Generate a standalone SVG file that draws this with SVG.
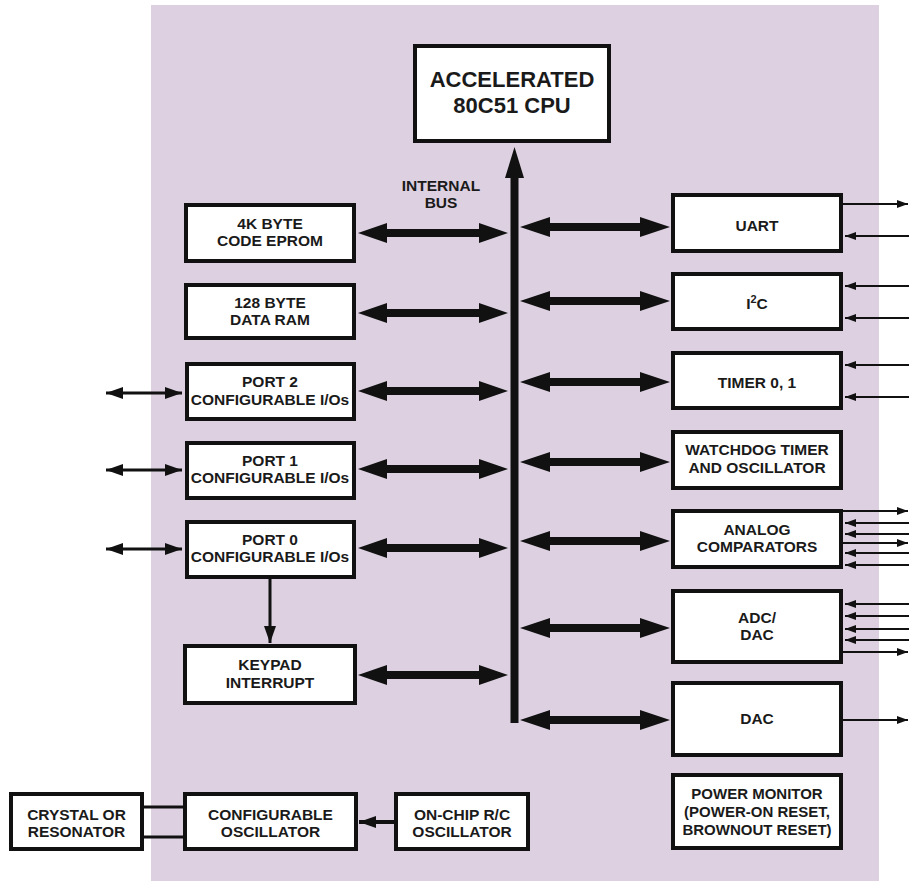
<svg xmlns="http://www.w3.org/2000/svg" width="909" height="881" viewBox="0 0 909 881">
<style>
.bg{fill:#dcd0e1}
.box{fill:#fff;stroke:#111;stroke-width:4}
.t{font-family:"Liberation Sans",Arial,Helvetica,sans-serif;font-weight:bold;font-size:15.5px;fill:#1a1a1a;text-anchor:middle}
.big{font-size:22px}
.sm{font-size:15px}
.thick{fill:#111}
.thin{stroke:#111;stroke-width:2;fill:none}
.med{stroke:#111;stroke-width:3;fill:none}
.link{stroke:#111;stroke-width:3;fill:none}
</style>
<defs>
<marker id="ahs" markerUnits="userSpaceOnUse" markerWidth="11" markerHeight="8" refX="11" refY="4" orient="auto-start-reverse"><path d="M0,0 L11,4 L0,8 Z" fill="#111"/></marker>
<marker id="ahm" markerUnits="userSpaceOnUse" markerWidth="17" markerHeight="12" refX="17" refY="6" orient="auto-start-reverse"><path d="M0,0 L17,6 L0,12 Z" fill="#111"/></marker>
<path id="dblL" d="M358,0 L387,-10 L387,-4 L479,-4 L479,-10 L508,0 L479,10 L479,4 L387,4 L387,10 Z"/>
<path id="dblR" d="M520,0 L550,-10 L550,-4 L640,-4 L640,-10 L670,0 L640,10 L640,4 L550,4 L550,10 Z"/>
</defs>
<rect width="909" height="881" fill="#fff"/>
<rect class="bg" x="151" y="5" width="728" height="876"/>

<g id="connectors">
  <path class="thick" d="M514.5,147 L524,178 L518.5,178 L518.5,723 L510.5,723 L510.5,178 L505,178 Z"/>
  <g class="thick">
    <use href="#dblL" y="233"/>
    <use href="#dblL" y="313"/>
    <use href="#dblL" y="391"/>
    <use href="#dblL" y="469"/>
    <use href="#dblL" y="548"/>
    <use href="#dblL" y="675"/>
    <use href="#dblR" y="227"/>
    <use href="#dblR" y="301"/>
    <use href="#dblR" y="382"/>
    <use href="#dblR" y="462"/>
    <use href="#dblR" y="541"/>
    <use href="#dblR" y="628"/>
    <use href="#dblR" y="720"/>
  </g>
  <g class="med">
    <line x1="106" y1="393" x2="182" y2="393" marker-start="url(#ahm)" marker-end="url(#ahm)"/>
    <line x1="106" y1="470" x2="182" y2="470" marker-start="url(#ahm)" marker-end="url(#ahm)"/>
    <line x1="106" y1="549" x2="182" y2="549" marker-start="url(#ahm)" marker-end="url(#ahm)"/>
    <line x1="270" y1="579" x2="270" y2="643" marker-end="url(#ahm)"/>
    <line x1="394" y1="822" x2="359" y2="822" stroke-width="4" marker-end="url(#ahm)"/>
  </g>
  <g class="link">
    <line x1="144" y1="807" x2="183" y2="807"/>
    <line x1="144" y1="837" x2="183" y2="837"/>
  </g>
  <g class="thin">
    <line x1="843" y1="204" x2="908" y2="204" marker-end="url(#ahs)"/>
    <line x1="909" y1="236" x2="845" y2="236" marker-end="url(#ahs)"/>
    <line x1="909" y1="286" x2="845" y2="286" marker-end="url(#ahs)"/>
    <line x1="909" y1="318" x2="845" y2="318" marker-end="url(#ahs)"/>
    <line x1="909" y1="365" x2="845" y2="365" marker-end="url(#ahs)"/>
    <line x1="909" y1="397" x2="845" y2="397" marker-end="url(#ahs)"/>
    <line x1="843" y1="511" x2="908" y2="511" marker-end="url(#ahs)"/>
    <line x1="909" y1="523" x2="845" y2="523" marker-end="url(#ahs)"/>
    <line x1="909" y1="534" x2="845" y2="534" marker-end="url(#ahs)"/>
    <line x1="843" y1="543" x2="908" y2="543" marker-end="url(#ahs)"/>
    <line x1="909" y1="553" x2="845" y2="553" marker-end="url(#ahs)"/>
    <line x1="909" y1="565" x2="845" y2="565" marker-end="url(#ahs)"/>
    <line x1="909" y1="604" x2="845" y2="604" marker-end="url(#ahs)"/>
    <line x1="909" y1="616" x2="845" y2="616" marker-end="url(#ahs)"/>
    <line x1="909" y1="629" x2="845" y2="629" marker-end="url(#ahs)"/>
    <line x1="909" y1="640" x2="845" y2="640" marker-end="url(#ahs)"/>
    <line x1="843" y1="652" x2="908" y2="652" marker-end="url(#ahs)"/>
    <line x1="843" y1="720" x2="908" y2="720" marker-end="url(#ahs)"/>
  </g>
  <text class="t" x="441" y="191" font-size="14.5">INTERNAL</text>
  <text class="t" x="441" y="208" font-size="14.5">BUS</text>
</g>

<g id="cpu"><rect class="box" x="415" y="46" width="194" height="95"/>
  <text class="t big" x="512" y="87">ACCELERATED</text><text class="t big" x="512" y="113">80C51 CPU</text></g>

<g id="eprom"><rect class="box" x="186" y="205" width="168" height="56"/>
  <text class="t" x="270" y="229">4K BYTE</text><text class="t" x="270" y="246">CODE EPROM</text></g>
<g id="ram"><rect class="box" x="186" y="285" width="168" height="53"/>
  <text class="t" x="270" y="308">128 BYTE</text><text class="t" x="270" y="325">DATA RAM</text></g>
<g id="port2"><rect class="box" x="187" y="364" width="167" height="55"/>
  <text class="t" x="270" y="387">PORT 2</text><text class="t" x="270" y="405">CONFIGURABLE I/Os</text></g>
<g id="port1"><rect class="box" x="187" y="443" width="167" height="55"/>
  <text class="t" x="270" y="466">PORT 1</text><text class="t" x="270" y="483">CONFIGURABLE I/Os</text></g>
<g id="port0"><rect class="box" x="187" y="522" width="167" height="55"/>
  <text class="t" x="270" y="545">PORT 0</text><text class="t" x="270" y="562">CONFIGURABLE I/Os</text></g>
<g id="keypad"><rect class="box" x="185" y="646" width="170" height="57"/>
  <text class="t" x="270" y="670">KEYPAD</text><text class="t" x="270" y="688">INTERRUPT</text></g>

<g id="uart"><rect class="box" x="673" y="195" width="168" height="56"/>
  <text class="t" x="757" y="231">UART</text></g>
<g id="i2c"><rect class="box" x="673" y="274" width="168" height="55"/>
  <text class="t" x="757" y="309">I<tspan font-size="11" dy="-6">2</tspan><tspan dy="6">C</tspan></text></g>
<g id="timer"><rect class="box" x="673" y="353" width="168" height="55"/>
  <text class="t" x="757" y="388">TIMER 0, 1</text></g>
<g id="watchdog"><rect class="box" x="673" y="432" width="168" height="56"/>
  <text class="t" x="757" y="455">WATCHDOG TIMER</text><text class="t" x="757" y="473">AND OSCILLATOR</text></g>
<g id="analog"><rect class="box" x="673" y="511" width="168" height="56"/>
  <text class="t" x="757" y="535">ANALOG</text><text class="t" x="757" y="552">COMPARATORS</text></g>
<g id="adc"><rect class="box" x="673" y="591" width="168" height="71"/>
  <text class="t" x="757" y="623">ADC/</text><text class="t" x="757" y="640">DAC</text></g>
<g id="dac"><rect class="box" x="673" y="683" width="168" height="72"/>
  <text class="t" x="757" y="724">DAC</text></g>
<g id="power"><rect class="box" x="673" y="775" width="168" height="73"/>
  <text class="t sm" x="757" y="799">POWER MONITOR</text><text class="t sm" x="757" y="817">(POWER-ON RESET,</text><text class="t sm" x="757" y="835">BROWNOUT RESET)</text></g>

<g id="crystal"><rect class="box" x="11" y="794" width="131" height="55"/>
  <text class="t" x="76.5" y="820">CRYSTAL OR</text><text class="t" x="76.5" y="837">RESONATOR</text></g>
<g id="confosc"><rect class="box" x="185" y="794" width="171" height="55"/>
  <text class="t" x="270.5" y="820">CONFIGURABLE</text><text class="t" x="270.5" y="837">OSCILLATOR</text></g>
<g id="rcosc"><rect class="box" x="396" y="794" width="132" height="55"/>
  <text class="t" x="462" y="820">ON-CHIP R/C</text><text class="t" x="462" y="837">OSCILLATOR</text></g>
</svg>
